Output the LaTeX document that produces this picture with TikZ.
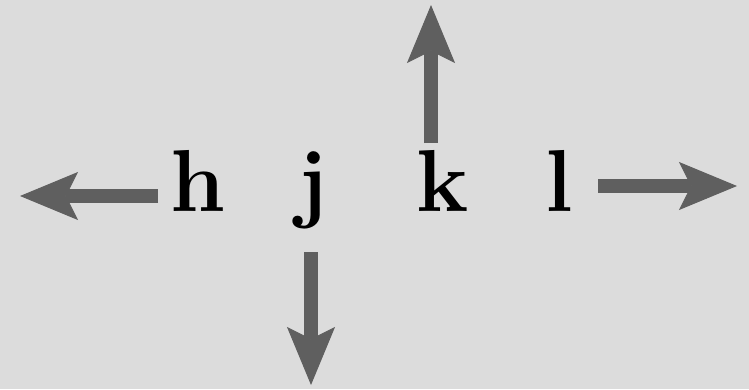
\documentclass[tikz,border=0pt]{standalone}
\usetikzlibrary{arrows.meta}
\definecolor{bg}{HTML}{DCDCDC}
\definecolor{arrowgray}{HTML}{5F5F5F}
\begin{document}
\begin{tikzpicture}[x=1pt,y=-1pt,
  keyarrow/.style={draw=arrowgray, line width=14pt,
    -{Stealth[length=58pt 0, width=48pt 0, inset=12pt 0, line width=1pt]}},
  letter/.style={anchor=base, inner sep=0pt, font=\fontsize{88}{88}\selectfont\bfseries}]
\fill[bg] (0,0) rectangle (749,389);
\useasboundingbox (0,0) rectangle (749,389);
\node[letter] (h) at (198,211) {h};
\node[letter] (j) at (313,211) {j};
\node[letter] (k) at (443,211) {k};
\node[letter] (l) at (559,211) {l};
\coordinate (hs) at (158,196);
\coordinate (he) at (20,196);
\coordinate (js) at (311,252);
\coordinate (je) at (311,385);
\coordinate (ks) at (431,143);
\coordinate (ke) at (431,5);
\coordinate (ls) at (598,186);
\coordinate (le) at (737,186);
\draw[keyarrow] (hs) -- (he);
\draw[keyarrow] (js) -- (je);
\draw[keyarrow] (ks) -- (ke);
\draw[keyarrow] (ls) -- (le);
\end{tikzpicture}
\end{document}
